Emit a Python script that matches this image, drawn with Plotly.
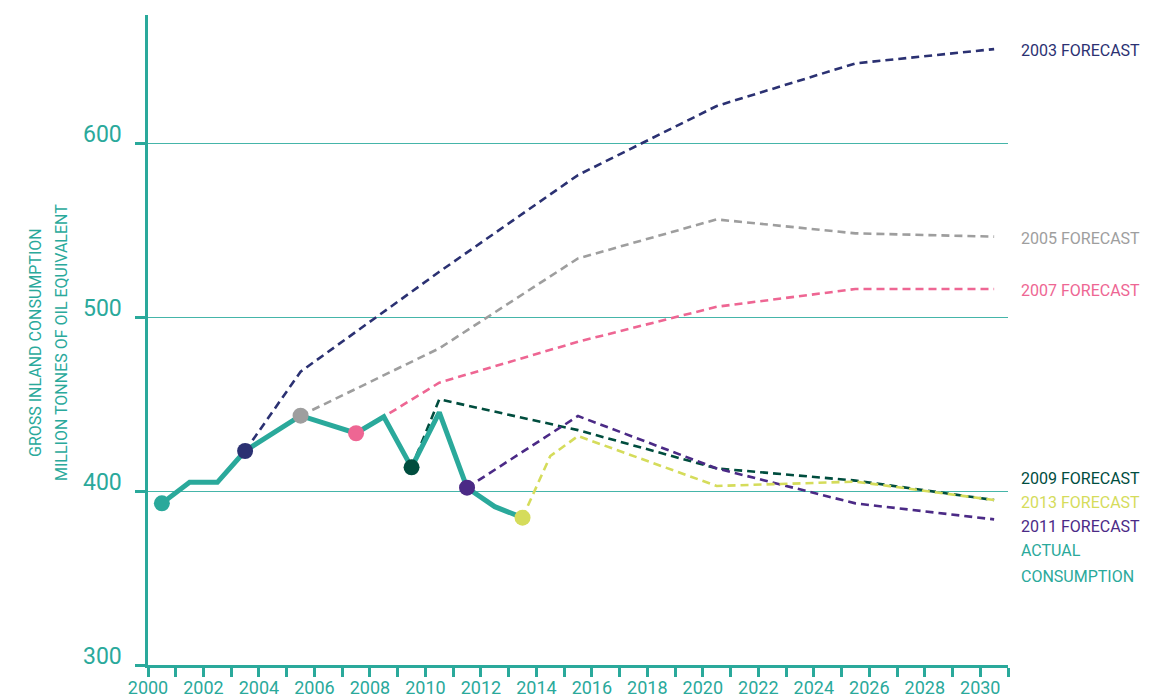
import plotly.graph_objects as go

# ---------------- data ----------------
actual_years = [2000, 2001, 2002, 2003, 2005, 2007, 2008, 2009, 2010, 2011, 2012, 2013]
actual_vals = [392.9, 405, 405, 423, 443.3, 433.2, 442.7, 413.6, 445.2, 401.9, 391, 384.7]

f2003_years = [2003, 2005, 2010, 2015, 2020, 2025, 2030]
f2003_vals = [423, 468.6, 526, 581.6, 621.3, 645.8, 654.0]

f2005_years = [2005, 2010, 2015, 2020, 2025, 2030]
f2005_vals = [443.3, 482, 533.7, 556.1, 548.1, 546.2]

f2007_years = [2007, 2008, 2010, 2015, 2020, 2025, 2030]
f2007_vals = [433.2, 442.7, 462.3, 485.8, 505.9, 516.1, 516.1]

f2009_years = [2009, 2010, 2015, 2020, 2025, 2030]
f2009_vals = [413.6, 452.7, 435, 413, 406, 394.8]

f2011_years = [2011, 2015, 2020, 2025, 2030]
f2011_vals = [401.9, 443.1, 413, 392.9, 383.7]

f2013_years = [2013, 2014, 2015, 2020, 2025, 2030]
f2013_vals = [384.7, 420.1, 431.6, 402.9, 405.4, 394.8]

y_ticks = [300, 400, 500, 600]
y_tick_labels = ["300", "400", "500", "600"]
x_ticks = list(range(2000, 2032))
x_tick_labels = [str(y) if y % 2 == 0 else "" for y in x_ticks]

# ---------------- styles ----------------
TEAL = "#2aa99b"
GRID = "#45b5a9"
FONT = "Roboto"
OFF = 0.5  # values are plotted at mid-year

forecasts = [
    ("2003 FORECAST", f2003_years, f2003_vals, "#2b3172"),
    ("2005 FORECAST", f2005_years, f2005_vals, "#9e9e9e"),
    ("2007 FORECAST", f2007_years, f2007_vals, "#ee6693"),
    ("2009 FORECAST", f2009_years, f2009_vals, "#004d3e"),
    ("2011 FORECAST", f2011_years, f2011_vals, "#4b2a86"),
    ("2013 FORECAST", f2013_years, f2013_vals, "#d5dc5b"),
]

fig = go.Figure()

for name, yrs, vals, col in forecasts:
    fig.add_trace(go.Scatter(
        x=[y + OFF for y in yrs], y=vals, mode="lines", name=name,
        line=dict(color=col, width=2.6, dash="8px,5px"),
        hoverinfo="skip", showlegend=False))

fig.add_trace(go.Scatter(
    x=[y + OFF for y in actual_years], y=actual_vals, mode="lines",
    name="ACTUAL CONSUMPTION", line=dict(color=TEAL, width=5),
    showlegend=False))

# start-point dots for each forecast + first actual value
dot_x = [actual_years[0] + OFF] + [f[1][0] + OFF for f in forecasts]
dot_y = [actual_vals[0]] + [f[2][0] for f in forecasts]
dot_c = [TEAL] + [f[3] for f in forecasts]
fig.add_trace(go.Scatter(
    x=dot_x, y=dot_y, mode="markers",
    marker=dict(size=16, color=dot_c, line=dict(width=0)),
    showlegend=False))

W, H = 1160, 699
L, R, T, B = 148, 152, 15, 34
PW, PH = W - L - R, H - T - B

# y tick labels, sitting just above each tick
for v, txt in zip(y_ticks, y_tick_labels):
    fig.add_annotation(
        x=(124 - L) / PW, xref="paper", y=v, yref="y", text=txt,
        showarrow=False, xanchor="right", yanchor="middle", yshift=9,
        font=dict(family=FONT, size=23, color=TEAL))

# right-hand labels
labels = [
    ("2003 FORECAST", "#2b3172", 50),
    ("2005 FORECAST", "#9e9e9e", 238),
    ("2007 FORECAST", "#ee6693", 290),
    ("2009 FORECAST", "#004d3e", 479),
    ("2013 FORECAST", "#d5dc5b", 502),
    ("2011 FORECAST", "#4b2a86", 526),
    ("ACTUAL", TEAL, 550),
    ("CONSUMPTION", TEAL, 576),
]
for txt, col, py in labels:
    fig.add_annotation(
        x=(1019 - L) / PW, y=1 - (py - T) / PH,
        xref="paper", yref="paper", text=txt, showarrow=False,
        xanchor="left", yanchor="middle",
        font=dict(family=FONT, size=16, color=col))

# y-axis title (two lines)
for txt, px in [("GROSS INLAND CONSUMPTION", 35), ("MILLION TONNES OF OIL EQUIVALENT", 61)]:
    fig.add_annotation(
        x=(px - L) / PW, y=1 - (343 - T) / PH,
        xref="paper", yref="paper", text=txt, showarrow=False, textangle=-90,
        xanchor="center", yanchor="middle",
        font=dict(family=FONT, size=16, color=TEAL))

fig.update_layout(
    width=W, height=H,
    margin=dict(l=L, r=R, t=T, b=B, pad=0, autoexpand=False),
    paper_bgcolor="white", plot_bgcolor="white",
    font=dict(family=FONT, color=TEAL),
    xaxis=dict(
        range=[2000, 2031], tickmode="array", tickvals=x_ticks, ticktext=x_tick_labels,
        showgrid=False, zeroline=False, showline=True, linecolor=TEAL, linewidth=3,
        ticks="outside", ticklen=9, tickwidth=3, tickcolor=TEAL, automargin=False,
        ticklabelstandoff=-5,
        tickfont=dict(family=FONT, size=18, color=TEAL), fixedrange=True),
    yaxis=dict(
        range=[300, 673.6], tickmode="array", tickvals=y_ticks, showticklabels=False,
        showgrid=True, gridcolor=GRID, gridwidth=1, zeroline=False,
        showline=True, linecolor=TEAL, linewidth=3, automargin=False,
        ticks="outside", ticklen=10, tickwidth=3, tickcolor=TEAL,
        fixedrange=True),
)

fig.write_html("out.html")
